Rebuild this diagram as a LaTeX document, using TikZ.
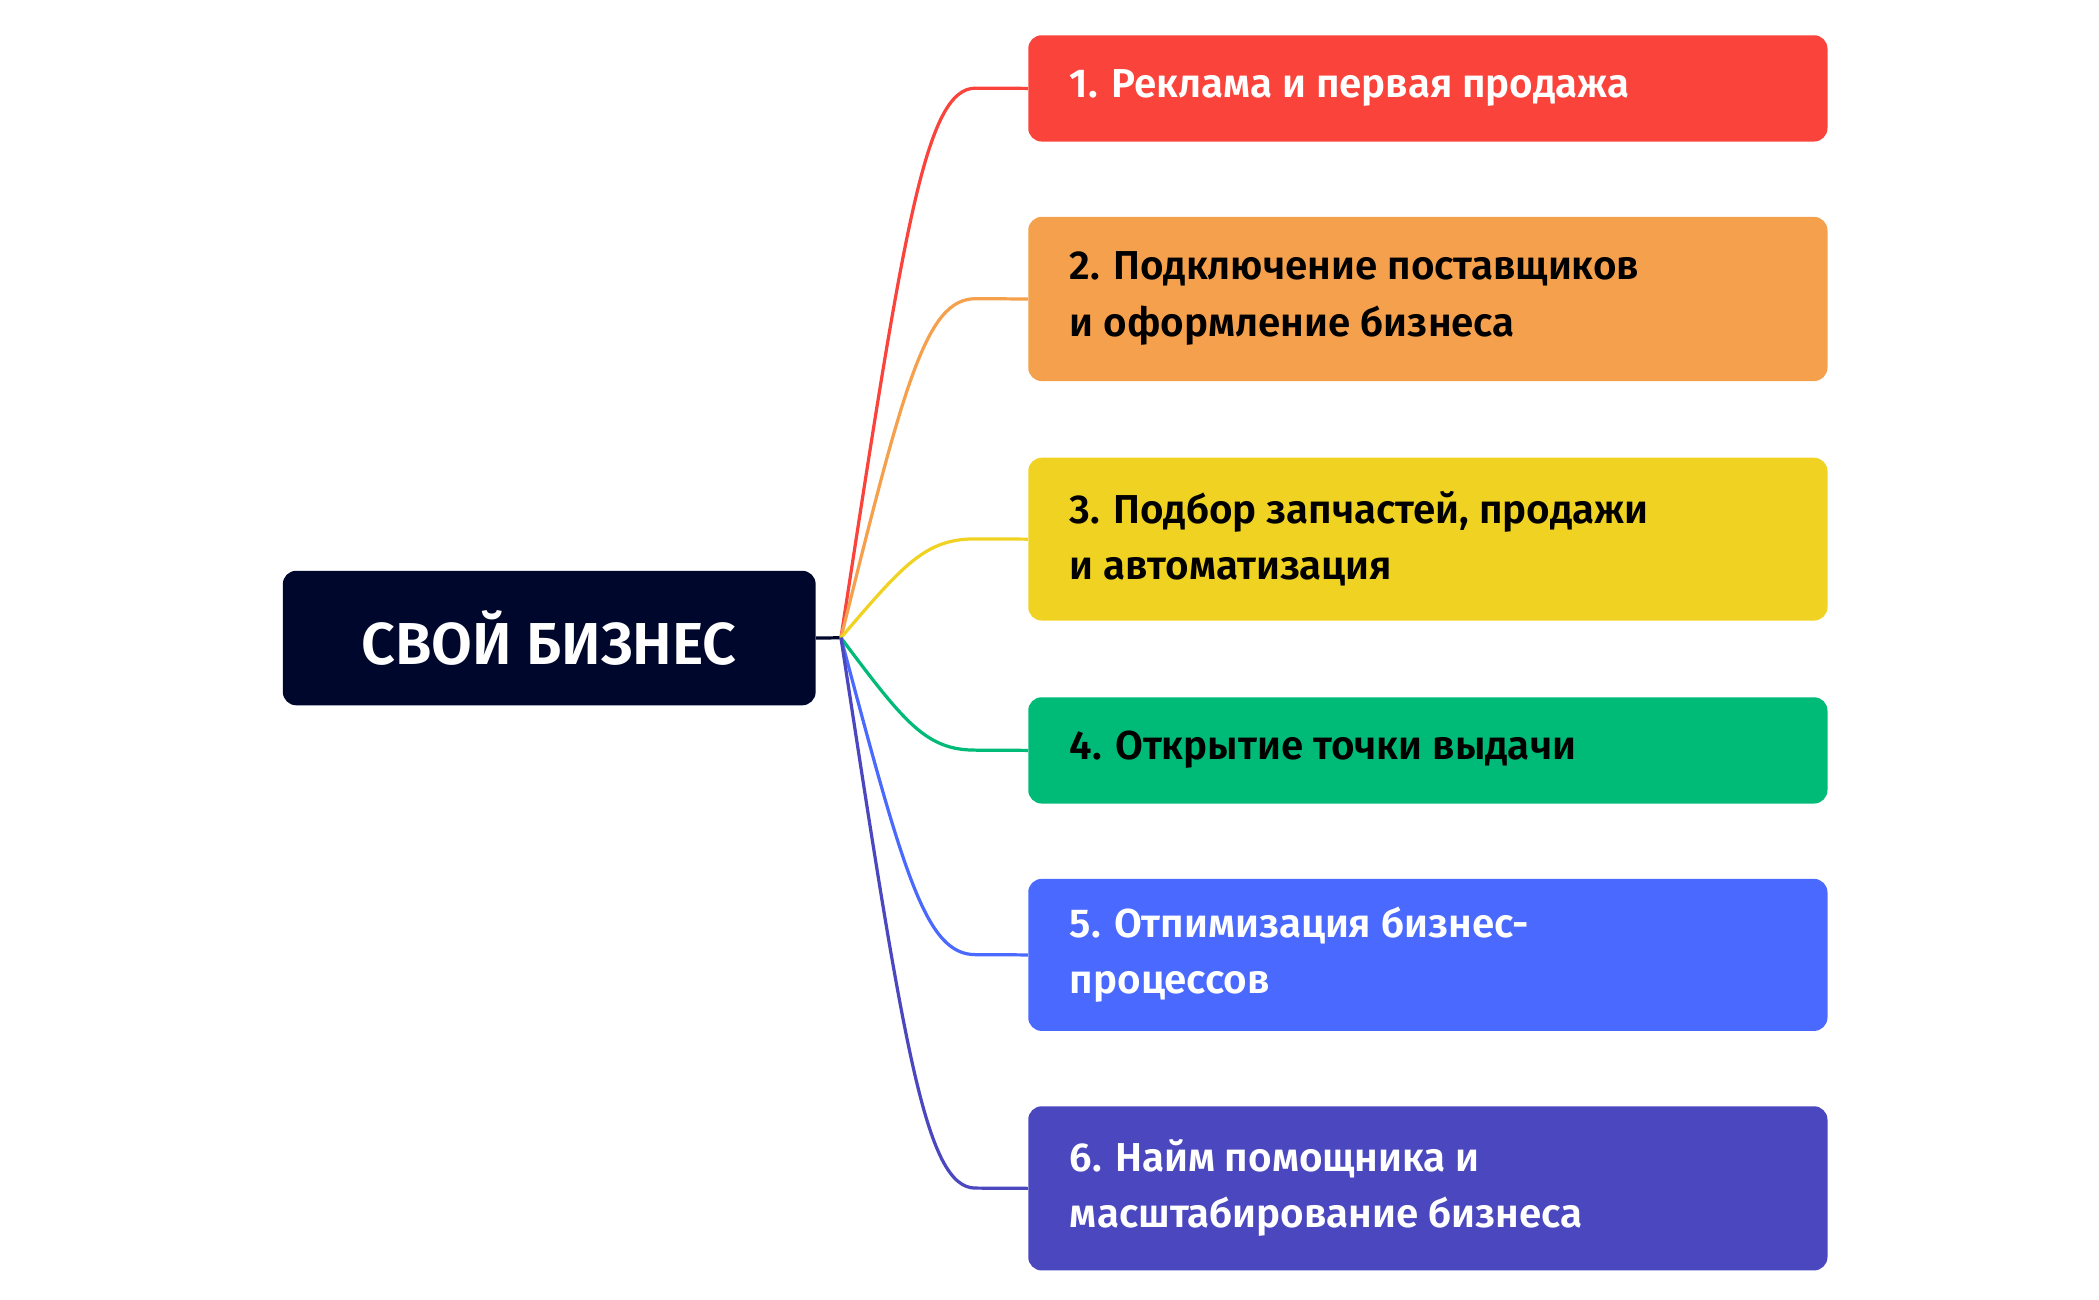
\documentclass[tikz,border=0pt]{standalone}
\usepackage{fontspec}
\setmainfont{Fira Sans}[UprightFont=* SemiBold, BoldFont=* Bold]
\definecolor{cR}{HTML}{F9433B}
\definecolor{cO}{HTML}{F5A04C}
\definecolor{cY}{HTML}{F0D322}
\definecolor{cG}{HTML}{00BA78}
\definecolor{cB}{HTML}{4A6AFF}
\definecolor{cP}{HTML}{4B48BF}
\definecolor{cD}{HTML}{00072D}
\tikzset{
 item/.style={rounded corners=10pt, minimum width=594pt, anchor=north west, inner sep=0pt},
 lbl/.style={anchor=west, align=left, font=\fontsize{30}{42}\selectfont, inner sep=0pt},
 conn/.style={line width=2.4pt}
}
\begin{document}
\begin{tikzpicture}[x=1pt,y=-1pt]
\useasboundingbox (0,0) rectangle (1560,966);
\node[fill=cD, rounded corners=10pt, minimum width=396pt, minimum height=100pt, anchor=north west] (hub) at (210,424) {};
\node[text=white, font=\fontsize{44}{50}\selectfont] (hubt) at (408,474) {СВОЙ БИЗНЕС};
\coordinate (j) at (625,474);
\draw[conn, cD] (hub.east) -- (j);
\foreach \n/\t/\b/\c/\tc/\txt in {
 1/26/105/cR/white/{1. Реклама и первая продажа},
 2/161/283/cO/black/{2. Подключение поставщиков\\и оформление бизнеса},
 3/340/461/cY/black/{3. Подбор запчастей, продажи\\и автоматизация},
 4/518/597/cG/black/{4. Открытие точки выдачи},
 5/653/766/cB/white/{5. Отпимизация бизнес-\\процессов},
 6/822/944/cP/white/{6. Найм помощника и\\масштабирование бизнеса}} {
  \pgfmathsetmacro{\h}{\b-\t}
  \pgfmathsetmacro{\m}{(\t+\b)/2}
  \node[item, fill=\c, minimum height=\h pt] (b\n) at (764,\t) {};
  \node[lbl, text=\tc] (t\n) at (795,\m) {\txt};
  \pgfmathsetmacro{\cy}{\m+(474-\m)*0.25}
  \draw[conn, \c] (j) .. controls (672,\cy) and (688,\m) .. (725,\m) -- (b\n.west);
}
\end{tikzpicture}
\end{document}
